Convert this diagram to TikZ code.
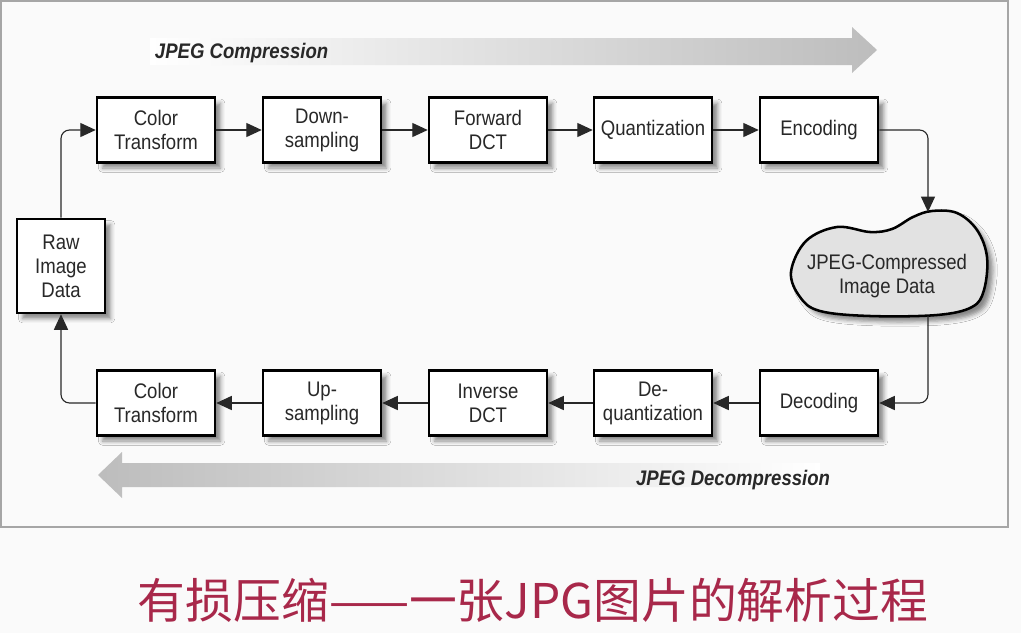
\documentclass[tikz,border=0pt]{standalone}
\usepackage{fontspec}
\setmainfont{Liberation Sans}[FakeStretch=0.88]
\newfontfamily\cjk{Noto Sans CJK SC}
\usepackage{tikz}
\usetikzlibrary{arrows.meta, positioning, shadows.blur}
\definecolor{Tinta}{RGB}{40, 40, 40}
\definecolor{Fondo}{RGB}{250, 250, 250}
\definecolor{Nube}{RGB}{226, 226, 226}
\definecolor{Rojo}{RGB}{168, 40, 74}

\begin{document}
\begin{tikzpicture}[x=0.025cm, y=-0.025cm,
        stage/.style={
            rectangle,
            draw=black,
            fill=white,
            line width=1.8pt,
            minimum width=2.95cm,
            minimum height=1.62cm,
            align=center,
            text=Tinta,
            font=\fontsize{15}{17}\selectfont,
            blur shadow={shadow xshift=4pt, shadow yshift=-4pt, shadow blur radius=3pt, shadow opacity=45}
        },
        flow/.style={
            draw=Tinta,
            line width=0.8pt,
            rounded corners=6pt,
            -{Triangle[length=11pt, width=10pt]}
        },
        bigarrow/.style={
            draw=none,
            shading=axis,
            shading angle=90
        },
        tag/.style={
            text=Tinta,
            font=\bfseries\itshape\fontsize{15}{17}\selectfont
        }
    ]
        \useasboundingbox (0,0) rectangle (1021,633);
        \fill[Fondo] (0,0) rectangle (1021,633);
        \draw[gray!70, line width=1.5pt] (1,1) rectangle (1008,527);

        % Direction arrows
        \path[bigarrow, left color=white, right color=gray!52]
            (150,38) -- (852,38) -- (852,27) -- (877,50) -- (852,73) -- (852,65) -- (150,65) -- cycle;
        \path[bigarrow, left color=gray!52, right color=white]
            (98,475) -- (122,452) -- (122,463) -- (820,463) -- (820,487) -- (122,487) -- (122,498) -- cycle;
        \node[tag, anchor=west] (comp) at (150,53) {JPEG Compression};
        \node[tag, anchor=east] (decomp) at (835,480) {JPEG Decompression};

        % Compression stages
        \node[stage] (ct1) at (156,130) {Color\\Transform};
        \node[stage] (down) at (322,130) {Down-\\sampling};
        \node[stage] (fdct) at (488,130) {Forward\\DCT};
        \node[stage] (quant) at (653,130) {Quantization};
        \node[stage] (enc) at (819,130) {Encoding};

        % Decompression stages
        \node[stage] (ct2) at (156,403) {Color\\Transform};
        \node[stage] (up) at (322,403) {Up-\\sampling};
        \node[stage] (idct) at (488,403) {Inverse\\DCT};
        \node[stage] (dequant) at (653,403) {De-\\quantization};
        \node[stage] (dec) at (819,403) {Decoding};

        % Raw data
        \node[stage, minimum width=2.2cm, minimum height=2.35cm] (raw) at (61,266) {Raw\\Image\\Data};

        % Compressed data cloud
        \path[draw=black, fill=Nube, line width=1.8pt,
              blur shadow={shadow xshift=4pt, shadow yshift=-4pt, shadow blur radius=3pt, shadow opacity=45}]
            plot[smooth cycle, tension=0.6] coordinates {
                (791,272) (806,241) (837,227) (870,232) (892,229) (913,217)
                (932,211) (957,213) (977,230) (987,257) (984,290) (972,307)
                (937,315) (870,316) (820,311) (800,297)};
        \node[text=Tinta, align=center, font=\fontsize{15}{17}\selectfont] (cloud) at (887,276) {JPEG-Compressed\\Image Data};
        \coordinate (cloudtop) at (928,212);
        \coordinate (cloudbot) at (928,316);

        % Connections
        \draw[flow] (raw.north) |- (ct1.west);
        \draw[flow] (ct1) -- (down);
        \draw[flow] (down) -- (fdct);
        \draw[flow] (fdct) -- (quant);
        \draw[flow] (quant) -- (enc);
        \draw[flow] (enc.east) -| (cloudtop);
        \draw[flow] (cloudbot) |- (dec.east);
        \draw[flow] (dec) -- (dequant);
        \draw[flow] (dequant) -- (idct);
        \draw[flow] (idct) -- (up);
        \draw[flow] (up) -- (ct2);
        \draw[flow] (ct2.west) -| (raw.south);

        % Caption
        \node[text=Rojo, font=\cjk\fontsize{34}{36}\selectfont] (caption) at (533,600) {有损压缩——一张JPG图片的解析过程};
    \end{tikzpicture}
\end{document}
